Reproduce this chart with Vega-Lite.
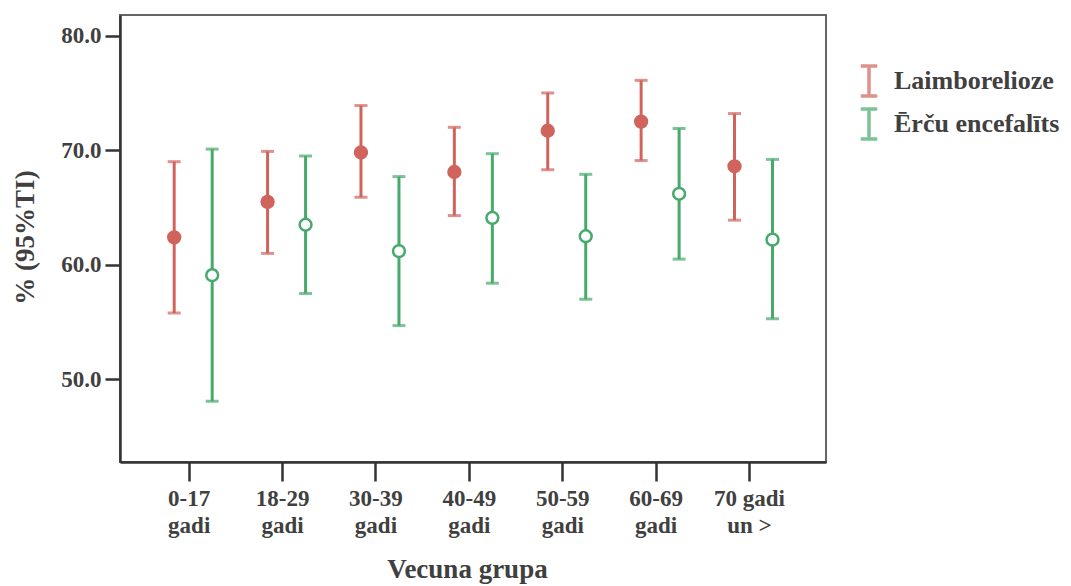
{
  "$schema": "https://vega.github.io/schema/vega-lite/v6.json",
  "width": 706,
  "height": 447,
  "autosize": {"type": "none"},
  "padding": {"left": 120, "top": 15, "right": 245, "bottom": 124},
  "background": "white",
  "config": {
    "view": {"stroke": "#666666", "strokeWidth": 2},
    "font": "Liberation Serif"
  },
  "data": {
    "values": [
      {"grupa": "0-17 gadi", "slimiba": "Laimborelioze", "mean": 62.4, "low": 55.8, "high": 69.0},
      {"grupa": "0-17 gadi", "slimiba": "Ērču encefalīts", "mean": 59.1, "low": 48.1, "high": 70.1},
      {"grupa": "18-29 gadi", "slimiba": "Laimborelioze", "mean": 65.5, "low": 61.0, "high": 69.9},
      {"grupa": "18-29 gadi", "slimiba": "Ērču encefalīts", "mean": 63.5, "low": 57.5, "high": 69.5},
      {"grupa": "30-39 gadi", "slimiba": "Laimborelioze", "mean": 69.8, "low": 65.9, "high": 73.9},
      {"grupa": "30-39 gadi", "slimiba": "Ērču encefalīts", "mean": 61.2, "low": 54.7, "high": 67.7},
      {"grupa": "40-49 gadi", "slimiba": "Laimborelioze", "mean": 68.1, "low": 64.3, "high": 72.0},
      {"grupa": "40-49 gadi", "slimiba": "Ērču encefalīts", "mean": 64.1, "low": 58.4, "high": 69.7},
      {"grupa": "50-59 gadi", "slimiba": "Laimborelioze", "mean": 71.7, "low": 68.3, "high": 75.0},
      {"grupa": "50-59 gadi", "slimiba": "Ērču encefalīts", "mean": 62.5, "low": 57.0, "high": 67.9},
      {"grupa": "60-69 gadi", "slimiba": "Laimborelioze", "mean": 72.5, "low": 69.1, "high": 76.1},
      {"grupa": "60-69 gadi", "slimiba": "Ērču encefalīts", "mean": 66.2, "low": 60.5, "high": 71.9},
      {"grupa": "70 gadi un >", "slimiba": "Laimborelioze", "mean": 68.6, "low": 63.9, "high": 73.2},
      {"grupa": "70 gadi un >", "slimiba": "Ērču encefalīts", "mean": 62.2, "low": 55.3, "high": 69.2}
    ]
  },
  "encoding": {
    "x": {
      "field": "grupa",
      "type": "nominal",
      "sort": null,
      "scale": {"paddingInner": 0, "paddingOuter": 0.28, "align": 0.43},
      "axis": {
        "title": "Vecuna grupa",
        "labelAngle": 0,
        "labelExpr": "datum.value == '70 gadi un >' ? ['70 gadi', 'un >'] : split(datum.value, ' ')",
        "labelFont": "Liberation Serif",
        "labelFontWeight": "bold",
        "labelFontSize": 23,
        "labelColor": "#404040",
        "labelLineHeight": 27,
        "labelPadding": 6,
        "labelBaseline": "top",
        "tickSize": 19,
        "tickWidth": 2.5,
        "tickColor": "#333333",
        "domainColor": "#333333",
        "domainWidth": 2.5,
        "titleFont": "Liberation Serif",
        "titleFontWeight": "bold",
        "titleFontSize": 27,
        "titleColor": "#404040",
        "titleX": 347,
        "titleY": 115,
        "titleBaseline": "alphabetic",
        "titleAlign": "center"
      }
    },
    "xOffset": {
      "field": "slimiba",
      "type": "nominal",
      "sort": ["Laimborelioze", "Ērču encefalīts"],
      "scale": {"range": [12.7, 88.7]}
    }
  },
  "layer": [
    {
      "mark": {"type": "rule", "strokeWidth": 3},
      "encoding": {
        "y": {
          "field": "low",
          "type": "quantitative",
          "scale": {"domain": [42.8, 81.8], "nice": false, "zero": false},
          "axis": {
            "title": "% (95%TI)",
            "values": [50, 60, 70, 80],
            "format": ".1f",
            "grid": false,
            "labelFont": "Liberation Serif",
            "labelFontWeight": "bold",
            "labelFontSize": 23,
            "labelColor": "#404040",
            "labelPadding": 4,
            "tickSize": 15,
            "tickWidth": 2.5,
            "tickColor": "#333333",
            "domainColor": "#333333",
            "domainWidth": 2.5,
            "titleFont": "Liberation Serif",
            "titleFontWeight": "bold",
            "titleFontSize": 27,
            "titleColor": "#404040",
            "titleX": -95,
            "titleY": 222,
            "titleAngle": -90,
            "titleAlign": "center",
            "titleBaseline": "middle"
          }
        },
        "y2": {"field": "high"},
        "color": {
          "field": "slimiba",
          "type": "nominal",
          "sort": ["Laimborelioze", "Ērču encefalīts"],
          "scale": {"domain": ["Laimborelioze", "Ērču encefalīts"], "range": ["#d0645c", "#47a96c"]},
          "legend": {
            "title": null,
            "orient": "none",
            "legendX": 732,
            "legendY": 49,
            "symbolType": "M-0.55,-1H0.55M0,-1V1M-0.55,1H0.55",
            "symbolSize": 900,
            "symbolStrokeWidth": 3.5,
            "symbolFillColor": "transparent",
            "labelFont": "Liberation Serif",
            "labelFontWeight": "bold",
            "labelFontSize": 26,
            "labelColor": "#404040",
            "labelOffset": 8,
            "rowPadding": -1,
            "labelLimit": 300
          }
        }
      }
    },
    {
      "mark": {"type": "tick", "thickness": 3, "size": 13, "orient": "horizontal"},
      "encoding": {
        "y": {"field": "low", "type": "quantitative"},
        "color": {"field": "slimiba", "type": "nominal"}
      }
    },
    {
      "mark": {"type": "tick", "thickness": 3, "size": 13, "orient": "horizontal"},
      "encoding": {
        "y": {"field": "high", "type": "quantitative"},
        "color": {"field": "slimiba", "type": "nominal"}
      }
    },
    {
      "mark": {"type": "point", "shape": "circle", "size": 140, "strokeWidth": 2.5, "opacity": 1},
      "encoding": {
        "y": {"field": "mean", "type": "quantitative"},
        "stroke": {
          "field": "slimiba",
          "type": "nominal",
          "scale": {"domain": ["Laimborelioze", "Ērču encefalīts"], "range": ["#d0645c", "#47a96c"]},
          "legend": null
        },
        "fill": {
          "field": "slimiba",
          "type": "nominal",
          "scale": {"domain": ["Laimborelioze", "Ērču encefalīts"], "range": ["#d0645c", "#ffffff"]},
          "legend": null
        }
      }
    }
  ]
}
